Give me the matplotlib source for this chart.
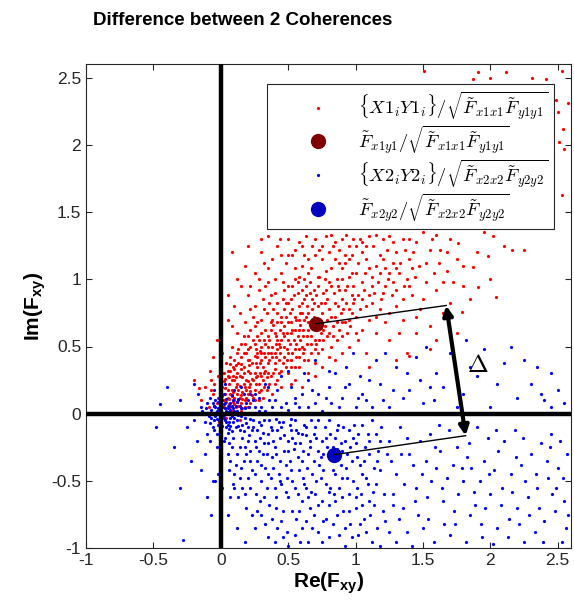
import matplotlib
matplotlib.use("Agg")
import matplotlib.pyplot as plt
from matplotlib.font_manager import FontProperties
import numpy as np

plt.rcParams["font.family"] = "Liberation Sans"
plt.rcParams["mathtext.fontset"] = "custom"
plt.rcParams["mathtext.rm"] = "Liberation Sans"
plt.rcParams["mathtext.it"] = "Liberation Sans:italic"
plt.rcParams["mathtext.bf"] = "Liberation Sans:bold"
plt.rcParams["axes.unicode_minus"] = False

# coherence samples of pair 1
red_pts = [
    (0.02, 0.05), (0.05, 0.12), (-0.03, 0.08), (0.08, 0.02), (0.12, 0.15), (0.01, 0.2), (0.15, 0.08),
    (-0.06, 0.15), (0.04, -0.03), (0.1, 0.25), (0.18, 0.2), (0.07, 0.32), (-0.02, 0.28), (0.2, 0.05),
    (0.22, 0.3), (0.13, 0.38), (0.25, 0.18), (0.03, 0.15), (0.09, 0.09), (0.16, 0.27), (-0.09, 0.05),
    (0.06, 0.22), (0.27, 0.35), (0.11, 0.05), (0.19, 0.12), (0.0, 0.35), (0.24, 0.25), (0.14, 0.21),
    (0.3, 0.28), (0.08, 0.18), (-0.04, 0.0), (0.02, 0.1), (0.17, 0.35), (0.21, 0.4), (0.28, 0.1),
    (0.05, 0.06), (0.12, 0.3), (-0.01, -0.06), (0.1, 0.12), (0.26, 0.22), (0.03, 0.26), (0.15, 0.02),
    (-0.12, 0.2), (0.07, 0.42), (0.18, 0.05), (0.23, 0.14), (0.29, 0.38), (0.11, 0.36), (0.04, 0.38),
    (-0.08, 0.32), (0.32, 0.2), (0.2, 0.24), (0.16, 0.16), (0.06, 0.0), (0.13, 0.1), (-0.05, 0.22),
    (0.09, 0.28), (0.22, 0.08), (0.35, 0.3), (0.27, 0.45), (-0.15, 0.1), (0.01, 0.45), (-0.2, 0.25),
    (0.19, 0.45), (0.31, 0.12), (0.14, -0.05), (0.33, 0.42), (0.08, 0.5), (-0.03, 0.55), (0.0, 0.6),
    (0.35, 0.5), (0.4, 0.38), (0.45, 0.55), (0.3, 0.6), (0.5, 0.45), (0.38, 0.7), (0.55, 0.62),
    (0.42, 0.48), (0.6, 0.5), (0.48, 0.72), (0.33, 0.52), (0.62, 0.7), (0.58, 0.8), (0.7, 0.55),
    (0.52, 0.35), (0.44, 0.62), (0.36, 0.4), (0.65, 0.62), (0.75, 0.75), (0.68, 0.85), (0.8, 0.6),
    (0.57, 0.9), (0.46, 0.85), (0.39, 0.78), (0.28, 0.55), (0.25, 0.65), (0.72, 0.45), (0.85, 0.72),
    (0.9, 0.85), (0.78, 0.92), (0.62, 0.4), (0.54, 0.55), (0.47, 0.42), (0.41, 0.58), (0.34, 0.75),
    (0.31, 0.85), (0.5, 0.95), (0.66, 0.98), (0.82, 0.5), (0.88, 0.62), (0.95, 0.78), (0.74, 0.68),
    (0.59, 0.66), (0.43, 0.52), (0.37, 0.62), (0.53, 0.78), (0.61, 0.58), (0.69, 0.72), (0.77, 0.82),
    (0.84, 0.9), (0.92, 0.68), (0.98, 0.95), (0.26, 0.48), (0.24, 0.72), (0.2, 0.58), (0.45, 0.32),
    (0.56, 0.42), (0.64, 0.52), (0.71, 0.62), (0.79, 0.7), (0.87, 0.8), (0.4, 0.9), (0.33, 0.95),
    (0.55, 1.0), (0.73, 1.02), (0.6, 0.75), (0.49, 0.6), (0.42, 0.68), (0.51, 0.52), (0.58, 0.48),
    (0.67, 0.45), (0.76, 0.55), (0.83, 0.65), (0.94, 0.6), (1.0, 0.72), (0.3, 0.7), (0.36, 0.82),
    (0.22, 0.78), (0.18, 0.68), (0.15, 0.52), (0.12, 0.6), (0.28, 0.92), (0.46, 0.98), (0.63, 0.88),
    (0.8, 0.98), (0.9, 1.0), (0.97, 0.88), (0.52, 0.68), (0.47, 0.5), (0.4, 0.45),
    (0.45, 1.05), (0.6, 1.1), (0.75, 1.15), (0.9, 1.08), (1.05, 1.2), (0.55, 1.22), (0.7, 1.3),
    (0.85, 1.28), (1.0, 1.05), (1.15, 1.1), (1.2, 1.3), (0.38, 1.15), (0.65, 1.05), (0.8, 1.2),
    (0.95, 1.25), (1.1, 1.32), (1.3, 1.2), (0.5, 1.3), (0.72, 1.02), (0.88, 1.12), (1.02, 1.12),
    (1.25, 1.05), (1.35, 1.3), (0.62, 1.18), (0.78, 1.06), (0.92, 1.18), (1.08, 1.25), (1.4, 1.15),
    (0.42, 1.25), (0.58, 1.02), (0.82, 1.33), (0.98, 1.3), (1.18, 1.18), (1.45, 1.28), (0.68, 1.25),
    (1.12, 1.02), (1.28, 1.12), (0.25, 1.05), (0.35, 1.32), (1.5, 1.35), (0.95, 1.02), (1.05, 0.98),
    (1.22, 0.95), (0.86, 1.0), (1.38, 1.0), (0.15, 0.95), (0.08, 1.2), (1.55, 1.22), (1.6, 1.33),
    (1.7, 1.3),
    (1.05, 0.85), (1.1, 0.7), (1.2, 0.9), (1.15, 0.6), (1.3, 0.8), (1.25, 0.55), (1.4, 0.95),
    (1.35, 0.7), (1.5, 0.85), (1.45, 0.6), (1.6, 0.92), (1.55, 0.48), (1.02, 0.55), (1.08, 0.45),
    (1.18, 0.78), (1.28, 0.98), (1.38, 0.45), (1.65, 0.75), (1.72, 0.98), (1.8, 1.1), (1.9, 1.2),
    (2.0, 1.0), (1.12, 0.95), (1.22, 0.68), (1.32, 0.6), (1.48, 0.78), (1.05, 0.62), (1.58, 1.05),
    (1.75, 0.6), (1.85, 0.85), (2.1, 1.25), (1.42, 1.08), (1.95, 1.35), (1.3, 0.4), (1.1, 0.35),
    (0.55, 0.25), (0.65, 0.3), (0.75, 0.35), (0.85, 0.4), (0.9, 0.45), (0.6, 0.2), (0.7, 0.28),
    (1.51, 2.55), (1.91, 2.54), (1.87, 2.49), (2.0, 2.5), (2.12, 2.54), (2.31, 2.5), (2.41, 2.49),
    (2.53, 2.55), (2.49, 2.33), (2.58, 2.31), (2.54, 2.12), (2.51, 2.02), (2.53, 1.63), (2.5, 2.24),
    (2.55, 1.97), (2.16, 1.22), (2.25, 1.22), (2.02, 1.32), (1.91, 0.94), (2.04, 0.87), (1.79, 0.76),
    (1.4, 0.43), (1.98, 1.17), (1.87, 1.09), (1.76, 1.27),
    (-0.06, 0.42), (-0.16, 0.19), (-0.07, 0.25),
    (0.04, 0.09), (0.07, 0.15), (0.1, 0.07), (0.13, 0.18), (0.16, 0.11), (0.19, 0.25), (0.22, 0.17),
    (0.25, 0.3), (0.28, 0.22), (0.31, 0.35), (0.34, 0.27), (0.37, 0.45), (0.4, 0.33), (0.43, 0.4),
    (0.46, 0.6), (0.49, 0.4), (0.52, 0.6), (0.55, 0.48), (0.58, 0.7), (0.61, 0.62), (0.64, 0.8),
    (0.67, 0.58), (0.06, 0.27), (0.09, 0.35), (0.12, 0.45), (0.15, 0.33), (0.18, 0.52), (0.21, 0.36),
    (0.24, 0.55), (0.27, 0.42), (0.3, 0.5), (0.33, 0.62), (0.36, 0.55), (0.39, 0.66), (0.42, 0.75),
    (0.45, 0.68), (0.48, 0.82), (0.51, 0.75), (0.54, 0.88), (0.57, 0.58), (0.6, 0.92), (0.63, 0.72),
    (0.66, 0.68), (0.69, 0.92), (0.72, 0.8), (0.02, 0.3), (0.05, 0.18), (0.08, 0.25), (0.11, 0.2),
    (0.14, 0.28), (0.17, 0.22), (0.2, 0.32), (0.23, 0.26), (0.26, 0.38), (0.29, 0.3), (0.32, 0.45),
    (0.35, 0.38), (0.38, 0.5), (0.41, 0.42), (0.44, 0.5), (0.47, 0.65), (0.5, 0.55), (0.53, 0.45),
    (0.56, 0.7), (0.59, 0.55), (0.62, 0.48), (0.65, 0.75), (0.68, 0.65), (0.71, 0.52), (0.74, 0.6),
    (0.77, 0.65), (0.8, 0.78), (0.83, 0.58), (0.86, 0.68), (0.89, 0.75), (0.92, 0.92), (0.95, 0.7),
    (0.98, 0.82), (0.01, 0.13), (0.03, 0.04), (0.06, 0.11), (0.09, 0.16), (0.12, 0.09), (0.15, 0.14),
    (0.18, 0.1), (0.21, 0.2), (0.24, 0.12), (0.27, 0.28), (0.3, 0.18), (0.33, 0.32), (0.36, 0.22),
    (0.39, 0.3), (0.0, 0.22), (-0.02, 0.12), (-0.05, 0.06), (-0.07, 0.18), (0.1, 0.4), (0.05, 0.32),
    (0.15, 0.42), (0.2, 0.48), (0.25, 0.52), (0.3, 0.4), (0.13, 0.48), (0.17, 0.58), (0.22, 0.62),
    (0.27, 0.68), (0.32, 0.78), (0.37, 0.88), (0.42, 0.82), (0.47, 0.92), (0.52, 0.85), (0.57, 0.98),
    (0.62, 1.0), (0.67, 1.08), (0.72, 0.95), (0.77, 1.0), (0.82, 1.08), (0.87, 0.95), (0.92, 1.12),
    (0.97, 1.05), (1.02, 0.88), (1.07, 1.05), (1.12, 0.82), (1.17, 0.98), (1.22, 1.08), (1.27, 0.88),
    (1.32, 1.05), (1.37, 1.22), (1.42, 0.88), (1.47, 1.1), (1.52, 0.98), (1.57, 1.3), (0.48, 1.12),
    (0.53, 1.18), (0.58, 1.28), (0.63, 1.32), (0.73, 1.22), (0.78, 1.32), (0.88, 1.22), (0.93, 1.33),
    (1.03, 1.3), (1.13, 1.25), (1.23, 1.22), (1.33, 1.12), (1.43, 1.2), (0.4, 1.0), (0.35, 1.08),
    (0.3, 1.2), (0.45, 1.18), (0.55, 1.08), (0.65, 1.15), (0.85, 1.15), (0.97, 1.18), (1.08, 1.15),
    (1.18, 1.05), (1.28, 1.28), (0.2, 0.88), (0.25, 0.8), (0.18, 1.1), (0.1, 0.8), (0.05, 0.7),
    (0.35, 0.98), (1.62, 1.12), (1.68, 1.2), (1.65, 0.98), (1.7, 0.82), (1.8, 0.95), (1.55, 0.65),
    (1.6, 0.55), (1.45, 0.72), (1.35, 0.85), (1.25, 0.75), (1.15, 0.72), (1.08, 0.8), (1.0, 0.6),
    (0.95, 0.5), (0.9, 0.58), (0.8, 0.42), (0.75, 0.48), (0.7, 0.38), (0.65, 0.4), (0.58, 0.35),
    (0.5, 0.3), (0.45, 0.2), (0.38, 0.15), (0.42, 0.25), (0.48, 0.35), (0.52, 0.22),
    (0.03, 0.19), (0.06, 0.07), (0.08, 0.13), (0.11, 0.27), (0.14, 0.12), (0.17, 0.3), (0.2, 0.15),
    (0.23, 0.38), (0.26, 0.27), (0.29, 0.47), (0.32, 0.3), (0.35, 0.58), (0.38, 0.42), (0.41, 0.52),
    (0.44, 0.45), (0.47, 0.58), (0.5, 0.68), (0.53, 0.62), (0.56, 0.52), (0.59, 0.75), (0.62, 0.85),
    (0.65, 0.68), (0.68, 0.78), (0.71, 0.88), (0.74, 0.82), (0.0, 0.15), (0.02, 0.24), (0.05, 0.28),
    (0.07, 0.37), (0.1, 0.33), (0.12, 0.22), (0.15, 0.37), (0.17, 0.45), (0.2, 0.4), (0.22, 0.5),
    (0.25, 0.43), (0.27, 0.58), (0.3, 0.45), (0.32, 0.55), (0.35, 0.45), (0.37, 0.68), (0.4, 0.6),
    (0.42, 0.55), (0.45, 0.72), (0.47, 0.78), (0.5, 0.82), (0.53, 0.95), (0.55, 0.72), (0.58, 0.62),
    (0.6, 0.82), (0.63, 0.95), (0.66, 0.9), (0.69, 0.82), (0.72, 0.7), (0.76, 0.9), (0.79, 0.85),
    (0.82, 0.95), (0.85, 0.82), (0.88, 0.92), (0.91, 0.78), (0.94, 0.95), (0.97, 0.75), (0.04, 0.0),
    (0.07, 0.05), (0.1, 0.1), (0.13, 0.06), (0.16, 0.04), (0.19, 0.18), (0.22, 0.22), (0.25, 0.1),
    (0.28, 0.16), (0.31, 0.25), (0.34, 0.18), (0.37, 0.28), (0.4, 0.22), (0.43, 0.3), (0.46, 0.38),
    (0.49, 0.48), (0.52, 0.4), (0.55, 0.35), (0.58, 0.42), (0.61, 0.45), (0.64, 0.58), (0.67, 0.52),
    (0.7, 0.48), (0.73, 0.55), (0.76, 0.62), (0.79, 0.58), (0.82, 0.72), (0.86, 0.55), (0.9, 0.68),
    (0.93, 0.82), (0.96, 0.65), (0.99, 0.85), (1.03, 0.78), (1.06, 0.92), (1.1, 0.88), (1.14, 0.9),
    (1.19, 0.85), (1.24, 1.0), (1.3, 0.92), (1.36, 0.95), (1.44, 1.02), (1.52, 1.12), (1.63, 1.22),
    (1.75, 1.15), (1.68, 1.06), (1.05, 1.28), (1.15, 1.33), (1.25, 1.32), (0.9, 1.3), (0.75, 1.25),
    (0.6, 1.25), (0.5, 1.18), (0.44, 1.3), (0.32, 1.12), (0.28, 1.0), (0.22, 0.95), (0.12, 1.0),
    (0.05, 0.88), (0.0, 0.75), (0.08, 0.65), (0.14, 0.75), (0.3, 1.3), (0.2, 1.25), (0.7, 1.18),
    (0.83, 1.25), (0.95, 1.15), (1.0, 1.25), (1.1, 1.08), (1.2, 1.15), (1.3, 1.08), (1.4, 1.3),
]

# coherence samples of pair 2
blue_pts = [
    (0.0, 0.0), (0.02, -0.03), (-0.03, 0.02), (0.05, 0.04), (-0.05, -0.05), (0.03, 0.08), (0.08, -0.02),
    (-0.02, -0.08), (0.01, 0.05), (0.06, -0.06), (-0.07, 0.03), (0.1, 0.02), (0.04, -0.1), (-0.04, 0.1),
    (0.07, 0.08), (-0.09, -0.02), (0.12, -0.05), (0.0, -0.12), (-0.01, 0.12), (0.09, 0.1), (0.03, 0.0),
    (-0.06, -0.1), (0.14, 0.06), (0.05, -0.14), (-0.1, 0.08), (0.11, -0.1), (0.02, 0.15), (-0.03, -0.15),
    (0.08, 0.14), (0.15, -0.02), (-0.12, -0.06), (0.01, -0.02), (0.04, 0.02), (-0.02, 0.04), (0.06, 0.0),
    (0.0, 0.08), (-0.04, -0.02), (0.07, -0.09), (0.13, 0.11), (-0.08, 0.12), (0.18, 0.04), (0.16, -0.08),
    (0.2, 0.1), (0.22, -0.04), (-0.14, 0.02), (0.1, 0.18), (-0.05, 0.18), (0.03, 0.22), (0.17, 0.15),
    (0.25, 0.05), (-0.1, -0.15), (0.02, -0.2), (0.09, -0.18), (-0.03, -0.25), (0.0, -0.35), (0.05, -0.3),
    (-0.02, -0.45), (0.01, -0.55), (0.0, -0.65), (-0.04, -0.5),
    (0.2, -0.1), (0.25, -0.2), (0.3, -0.08), (0.35, -0.15), (0.4, -0.25), (0.45, -0.1), (0.5, -0.2),
    (0.55, -0.05), (0.6, -0.15), (0.65, -0.3), (0.7, -0.1), (0.75, -0.2), (0.8, -0.05), (0.85, -0.18),
    (0.9, -0.28), (0.95, -0.12), (1.0, -0.22), (1.05, -0.08), (1.1, -0.3), (1.15, -0.15), (0.22, -0.35),
    (0.28, -0.28), (0.33, -0.4), (0.38, -0.32), (0.43, -0.45), (0.48, -0.38), (0.53, -0.5), (0.58, -0.42),
    (0.63, -0.55), (0.68, -0.45), (0.73, -0.38), (0.78, -0.52), (0.83, -0.42), (0.88, -0.55), (0.93, -0.4),
    (0.98, -0.5), (1.03, -0.38), (1.08, -0.48), (1.13, -0.58), (1.18, -0.42), (0.18, -0.25), (0.24, -0.05),
    (0.32, -0.22), (0.36, -0.05), (0.42, -0.12), (0.47, -0.28), (0.52, -0.12), (0.57, -0.32), (0.62, -0.08),
    (0.66, -0.2), (0.72, -0.28), (0.77, -0.1), (0.82, -0.32), (0.87, -0.08), (0.92, -0.2), (0.97, -0.35),
    (1.02, -0.15), (1.07, -0.25), (1.12, -0.05), (1.17, -0.28), (0.3, -0.5), (0.4, -0.55), (0.5, -0.62),
    (0.6, -0.65), (0.7, -0.6), (0.8, -0.68), (0.9, -0.62), (1.0, -0.7), (1.1, -0.65), (1.2, -0.72),
    (0.26, -0.6), (0.36, -0.68), (0.46, -0.72), (0.56, -0.78), (0.66, -0.7), (0.76, -0.8), (0.86, -0.75),
    (0.96, -0.82), (1.06, -0.78), (1.16, -0.85), (0.15, -0.4), (0.12, -0.3), (0.16, -0.55), (0.2, -0.48),
    (0.1, -0.45), (0.21, -0.16), (0.27, -0.12), (0.34, -0.3), (0.39, -0.2), (0.44, -0.35), (0.49, -0.48),
    (0.54, -0.26), (0.59, -0.22), (0.64, -0.4), (0.69, -0.35), (0.74, -0.48), (0.79, -0.25), (0.84, -0.6),
    (0.89, -0.38), (0.94, -0.48), (0.99, -0.08), (1.04, -0.6), (1.09, -0.15), (1.14, -0.4), (1.19, -0.1),
    (0.3, -0.75), (0.42, -0.85), (0.55, -0.9), (0.65, -0.95), (0.8, -0.92), (0.92, -0.98), (1.02, -0.9),
    (1.12, -0.95), (0.35, -0.92), (0.5, -0.98), (0.72, -0.88), (0.6, -0.85), (0.25, -0.85), (0.38, -0.78),
    (1.25, -0.2), (1.3, -0.45), (1.35, -0.7), (1.4, -0.3), (1.45, -0.55), (1.5, -0.85), (1.55, -0.15),
    (1.6, -0.4), (1.65, -0.65), (1.7, -0.9), (1.75, -0.25), (1.8, -0.5), (1.85, -0.75), (1.9, -0.1),
    (1.95, -0.35), (2.0, -0.6), (2.05, -0.85), (2.1, -0.2), (2.15, -0.45), (2.2, -0.7), (2.25, -0.95),
    (2.3, -0.3), (2.35, -0.55), (2.4, -0.8), (2.45, -0.15), (2.5, -0.4), (2.55, -0.65), (1.28, -0.6),
    (1.33, -0.1), (1.38, -0.88), (1.43, -0.38), (1.48, -0.2), (1.53, -0.62), (1.58, -0.95), (1.63, -0.28),
    (1.68, -0.48), (1.73, -0.72), (1.78, -0.08), (1.83, -0.32), (1.88, -0.58), (1.93, -0.82), (1.98, -0.18),
    (2.03, -0.42), (2.08, -0.68), (2.13, -0.92), (2.18, -0.12), (2.23, -0.38), (2.28, -0.62), (2.33, -0.88),
    (2.38, -0.22), (2.43, -0.48), (2.48, -0.72), (2.53, -0.95), (2.57, -0.3), (1.22, -0.8), (1.26, -0.35),
    (1.36, -0.52), (1.46, -0.75), (1.56, -0.5), (1.66, -0.82), (1.76, -0.6), (1.86, -0.4), (1.96, -0.7),
    (2.06, -0.28), (2.16, -0.58), (2.26, -0.5), (2.36, -0.7), (2.46, -0.6), (2.56, -0.85), (1.3, -0.95),
    (1.42, -0.98), (1.62, -0.08), (1.72, -0.38), (1.82, -0.95), (2.02, -0.97), (2.42, -0.35), (2.21, -0.82),
    (2.52, -0.2), (1.52, -0.35), (1.92, -0.5),
    (0.3, 0.05), (0.4, 0.1), (0.5, 0.03), (0.6, 0.15), (0.7, 0.08), (0.8, 0.2), (0.9, 0.12), (1.0, 0.05),
    (1.1, 0.25), (1.2, 0.1), (1.3, 0.35), (1.4, 0.18), (1.5, 0.08), (1.6, 0.3), (1.7, 0.45), (1.8, 0.15),
    (1.9, 0.28), (2.0, 0.05), (2.1, 0.38), (2.2, 0.12), (2.3, 0.22), (2.4, 0.1), (2.5, 0.18), (0.35, 0.2),
    (0.45, 0.28), (0.55, 0.12), (0.65, 0.25), (0.75, 0.02), (0.85, 0.3), (0.95, 0.22), (1.05, 0.15),
    (1.15, 0.4), (1.25, 0.05), (1.35, 0.12), (1.45, 0.42), (1.55, 0.2), (1.75, 0.05), (1.95, 0.48),
    (2.15, 0.5), (2.35, 0.35), (2.45, 0.05), (0.25, 0.15), (0.5, 0.32), (1.82, 0.55), (2.55, 0.08),
    (0.7, 0.4), (0.98, 0.45), (1.12, 0.05),
    (-0.15, 0.05), (-0.2, -0.05), (-0.18, -0.2), (-0.25, -0.1), (-0.3, 0.1), (-0.45, 0.07), (-0.2, 0.22),
    (-0.35, -0.25), (-0.22, -0.35), (-0.12, -0.3), (-0.48, -0.1), (-0.15, -0.42), (-0.3, -0.55),
    (-0.1, -0.62), (-0.07, -0.75), (-0.28, -0.94), (-0.06, -0.5), (-0.17, 0.15), (-0.08, -0.2), (-0.4, 0.2),
    (0.03, -0.05), (-0.01, 0.03), (0.05, 0.01), (-0.06, 0.0), (0.02, 0.07), (0.07, 0.03), (-0.03, -0.04),
    (0.04, 0.11), (0.09, -0.06), (-0.05, 0.06), (0.11, 0.06), (0.01, -0.09), (0.06, -0.11), (-0.08, -0.07),
    (0.13, -0.01), (0.12, 0.09), (-0.02, 0.09), (0.08, 0.06), (0.0, -0.04), (0.14, -0.12), (0.17, 0.0),
    (0.19, -0.07), (0.21, 0.05), (0.23, -0.12), (0.26, 0.0), (0.28, -0.06), (0.31, -0.14), (0.33, 0.02),
    (0.37, -0.1), (0.41, -0.04), (0.44, -0.18), (0.46, -0.06), (0.51, -0.08), (0.53, -0.18), (0.56, -0.12),
    (0.61, -0.28), (0.63, -0.16), (0.67, -0.05), (0.71, -0.18), (0.76, -0.3), (0.81, -0.15), (0.86, -0.26),
    (0.91, -0.1), (0.96, -0.25), (1.01, -0.32), (0.16, -0.18), (0.19, -0.3), (0.23, -0.42), (0.27, -0.35),
    (0.31, -0.3), (0.35, -0.45), (0.39, -0.4), (0.45, -0.52), (0.51, -0.35), (0.55, -0.55), (0.61, -0.48),
    (0.65, -0.62), (0.71, -0.5), (0.75, -0.65), (0.81, -0.55), (0.85, -0.45), (0.91, -0.72), (0.95, -0.6),
    (1.01, -0.55), (1.05, -0.45), (1.11, -0.75), (1.15, -0.52), (1.21, -0.6), (1.23, -0.3), (1.18, -0.2),
    (0.08, -0.25), (0.11, -0.38), (0.06, -0.42), (0.13, -0.62), (0.19, -0.7), (0.23, -0.75), (0.29, -0.65),
    (0.33, -0.82), (0.41, -0.7), (0.45, -0.8), (0.49, -0.88), (0.53, -0.72), (0.59, -0.95), (0.63, -0.8),
    (0.69, -0.75), (0.75, -0.95), (0.83, -0.82), (0.88, -0.9), (0.97, -0.92), (1.08, -0.88), (1.18, -0.98),
    (1.25, -0.88), (1.32, -0.78), (1.28, -0.68), (1.34, -0.3), (1.38, -0.18), (1.44, -0.65), (1.49, -0.45),
    (1.54, -0.78), (1.59, -0.25), (1.64, -0.55), (1.69, -0.12), (1.74, -0.82), (1.79, -0.4), (1.84, -0.22),
    (1.89, -0.68), (1.94, -0.92), (1.99, -0.45), (2.04, -0.12), (2.09, -0.55), (2.14, -0.78), (2.19, -0.32),
    (2.24, -0.18), (2.29, -0.75), (2.34, -0.45), (2.39, -0.95), (2.44, -0.25), (2.49, -0.55), (2.54, -0.48),
    (2.58, -0.75), (0.1, -0.55), (0.05, -0.75), (0.12, -0.85), (0.18, -0.95), (0.07, -0.62), (0.15, 0.2),
    (0.22, 0.15), (0.28, 0.12), (0.33, 0.22), (0.38, 0.05), (0.42, 0.18), (0.48, 0.08), (0.52, 0.2),
    (0.58, 0.05), (0.62, 0.3), (0.68, 0.18), (0.78, 0.12), (0.88, 0.05), (0.93, 0.35), (1.03, 0.28),
    (1.08, 0.1), (1.18, 0.22), (1.28, 0.18), (1.38, 0.3), (1.48, 0.25), (1.58, 0.1), (1.65, 0.2),
    (1.85, 0.35), (2.05, 0.22), (2.25, 0.4), (2.45, 0.3), (1.22, 0.45), (1.52, 0.5), (2.38, 0.15),
    (0.8, 0.32),
    (0.02, -0.01), (0.04, -0.06), (-0.01, -0.05), (0.07, -0.03), (0.03, 0.04), (-0.04, 0.05), (0.1, -0.03),
    (0.06, 0.06), (0.01, 0.1), (-0.06, 0.08), (0.09, 0.04), (0.12, 0.02), (0.0, -0.07), (-0.07, -0.03),
    (0.05, -0.08), (0.15, 0.04), (0.18, -0.03), (0.08, -0.13), (0.13, -0.09), (0.17, -0.13), (0.2, -0.2),
    (0.24, -0.1), (0.26, -0.25), (0.29, -0.18), (0.32, -0.05), (0.35, -0.22), (0.38, -0.12), (0.41, -0.3),
    (0.43, -0.06), (0.47, -0.16), (0.5, -0.28), (0.52, -0.04), (0.55, -0.22), (0.57, -0.14), (0.6, -0.35),
    (0.63, -0.1), (0.66, -0.25), (0.69, -0.15), (0.72, -0.05), (0.74, -0.32), (0.78, -0.18), (0.83, -0.25),
    (0.86, -0.12), (0.89, -0.22), (0.94, -0.3), (0.98, -0.18), (1.06, -0.35), (1.1, -0.2), (1.16, -0.35),
    (0.14, -0.25), (0.17, -0.35), (0.22, -0.28), (0.25, -0.45), (0.3, -0.38), (0.34, -0.55), (0.37, -0.48),
    (0.41, -0.62), (0.44, -0.5), (0.48, -0.58), (0.52, -0.42), (0.57, -0.6), (0.62, -0.52), (0.67, -0.58),
    (0.72, -0.68), (0.76, -0.42), (0.8, -0.58), (0.85, -0.65), (0.9, -0.48), (0.95, -0.72), (1.0, -0.62),
    (1.05, -0.68), (1.09, -0.52), (1.14, -0.68), (0.07, -0.35), (0.09, -0.52), (0.14, -0.48), (0.18, -0.6),
    (0.22, -0.55), (0.27, -0.72), (0.32, -0.62), (0.4, -0.95), (0.46, -0.92), (0.58, -0.72), (0.68, -0.85),
    (0.78, -0.78), (0.92, -0.85), (1.03, -0.82), (0.03, -0.18), (0.06, -0.22), (-0.05, -0.12), (-0.08, 0.0),
    (-0.11, 0.04), (0.19, 0.08), (0.24, 0.1), (0.28, 0.02), (0.36, 0.1), (0.45, 0.05), (0.55, 0.08),
    (0.65, 0.05), (0.72, 0.15), (0.82, 0.08), (0.92, 0.2), (1.02, 0.12),
]

mean1 = (0.704, 0.669)
mean2 = (0.838, -0.305)
corner1 = (1.673, 0.805)
corner2 = (1.817, -0.163)

labels = [
    r"$\{X1_iY1_i\}/\sqrt{\tilde{F}_{x1x1}\tilde{F}_{y1y1}}$",
    r"$\tilde{F}_{x1y1}/\sqrt{\tilde{F}_{x1x1}\tilde{F}_{y1y1}}$",
    r"$\{X2_iY2_i\}/\sqrt{\tilde{F}_{x2x2}\tilde{F}_{y2y2}}$",
    r"$\tilde{F}_{x2y2}/\sqrt{\tilde{F}_{x2x2}\tilde{F}_{y2y2}}$",
]

fig = plt.figure(figsize=(5.74, 6.16), dpi=100)
ax = fig.add_axes([0.150, 0.110, 0.845, 0.786])

r = np.array(red_pts)
b = np.array(blue_pts)
ax.plot(r[:, 0], r[:, 1], "o", ms=2.3, mew=0, color="red", label=labels[0])
ax.plot(*mean1, "o", ms=11, mew=0, color="#7f0000", label=labels[1], zorder=4)
ax.plot(b[:, 0], b[:, 1], "o", ms=2.3, mew=0, color="blue", label=labels[2])
ax.plot(*mean2, "o", ms=11, mew=0, color="#0000bf", label=labels[3], zorder=4)

ax.axvline(0, color="k", lw=3.2, zorder=5)
ax.axhline(0, color="k", lw=3.2, zorder=5)

ax.plot([mean1[0], corner1[0]], [mean1[1], corner1[1]], color="k", lw=1, zorder=5)
ax.plot([mean2[0], corner2[0]], [mean2[1], corner2[1]], color="k", lw=1, zorder=5)
ax.annotate("", xy=corner1, xytext=corner2,
            arrowprops=dict(arrowstyle="<|-|>", lw=3, color="k", mutation_scale=14,
                            shrinkA=0, shrinkB=0), zorder=6)
ax.text(1.91, 0.36, r"$\Delta$", fontsize=18, math_fontfamily="cm", ha="center", va="center")

ax.set_xlim(-1, 2.6)
ax.set_ylim(-1, 2.6)
ticks = [-1, -0.5, 0, 0.5, 1, 1.5, 2, 2.5]
tick_labels = ["-1", "-0.5", "0", "0.5", "1", "1.5", "2", "2.5"]
ax.set_xticks(ticks, tick_labels)
ax.set_yticks(ticks, tick_labels)
ax.tick_params(direction="in", length=4, top=True, right=True, labelsize=12.5, width=0.8, colors="#262626")
for s in ax.spines.values():
    s.set_linewidth(0.8)
    s.set_color("#262626")

ax.set_xlabel(r"Re(F$_{\mathbf{xy}}$)", fontsize=15, fontweight="bold", labelpad=2)
ax.set_ylabel(r"Im(F$_{\mathbf{xy}}$)", fontsize=15, fontweight="bold", labelpad=2)
fig.text(0.423, 0.967, "Difference between 2 Coherences", fontsize=13.5, fontweight="bold",
         ha="center", va="center")

leg = ax.legend(loc="upper right", bbox_to_anchor=(0.965, 0.959), borderaxespad=0,
                prop=FontProperties(size=13.3, math_fontfamily="cm"), numpoints=1,
                handlelength=4.9, handletextpad=-0.25, borderpad=0.3, labelspacing=0.05,
                fancybox=False, framealpha=1, edgecolor="#262626")
leg.get_frame().set_linewidth(0.8)
leg.set_zorder(10)

fig.savefig("out.png", dpi=100)
